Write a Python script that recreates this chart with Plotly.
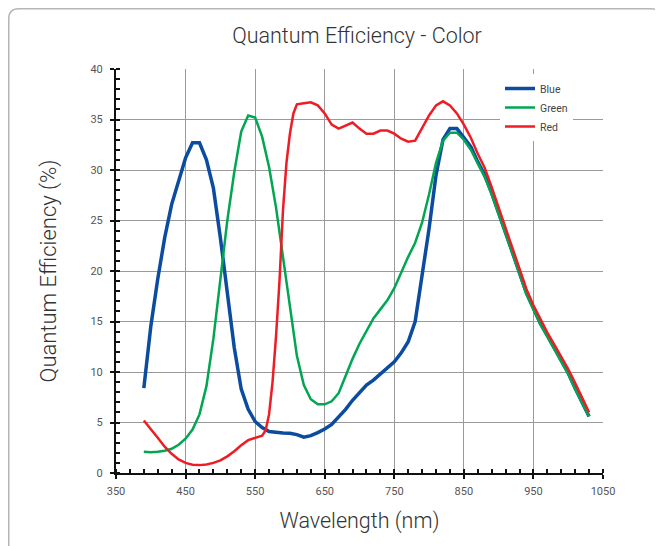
import plotly.graph_objects as go

# ---------------- data ----------------
blue_nm = [390, 400, 410, 420, 430, 440, 450, 460, 470, 480, 490, 500, 510, 520, 530, 540,
           550, 560, 570, 580, 590, 600, 610, 620, 630, 640, 650, 660, 670, 680, 690, 700,
           710, 720, 730, 740, 750, 760, 770, 780, 790, 800, 810, 820, 830, 840, 850, 860,
           870, 880, 890, 900, 910, 920, 930, 940, 950, 960, 970, 980, 990, 1000, 1010, 1020, 1030]
blue_qe = [8.4, 14.5, 19.2, 23.3, 26.6, 29.0, 31.2, 32.7, 32.7, 31.0, 28.2, 23.3, 17.8, 12.4, 8.3, 6.3,
           5.1, 4.5, 4.1, 4.0, 3.95, 3.93, 3.8, 3.55, 3.7, 4.0, 4.35, 4.8, 5.5, 6.3, 7.2, 8.0,
           8.7, 9.2, 9.8, 10.4, 11.0, 11.9, 13.0, 15.0, 19.5, 24.2, 29.5, 33.0, 34.1, 34.1, 33.2, 32.3,
           30.8, 29.5, 27.7, 25.8, 23.8, 21.8, 19.8, 17.8, 16.3, 14.8, 13.6, 12.4, 11.1, 9.9, 8.4, 7.0, 5.6]

green_nm = [390, 400, 410, 420, 430, 440, 450, 460, 470, 480, 490, 500, 510, 520, 530, 540,
            550, 560, 570, 580, 590, 600, 610, 620, 630, 640, 650, 660, 670, 680, 690, 700,
            710, 720, 730, 740, 750, 760, 770, 780, 790, 800, 810, 820, 830, 840, 850, 860,
            870, 880, 890, 900, 910, 920, 930, 940, 950, 960, 970, 980, 990, 1000, 1010, 1020, 1030]
green_qe = [2.1, 2.05, 2.1, 2.2, 2.4, 2.8, 3.4, 4.3, 5.8, 8.6, 13.3, 19.0, 25.0, 29.8, 33.8, 35.4,
            35.2, 33.3, 30.3, 26.3, 21.5, 16.2, 11.6, 8.7, 7.3, 6.8, 6.8, 7.1, 7.9, 9.6, 11.3, 12.8,
            14.1, 15.3, 16.2, 17.1, 18.3, 19.9, 21.4, 22.8, 24.8, 27.6, 30.7, 32.9, 33.7, 33.7, 33.0, 32.0,
            30.6, 29.3, 27.6, 25.7, 23.7, 21.7, 19.7, 17.7, 16.2, 14.7, 13.5, 12.3, 11.0, 9.8, 8.3, 6.9, 5.6]

red_nm = [390, 400, 410, 420, 430, 440, 450, 460, 470, 480, 490, 500, 510, 520, 530, 540,
          550, 560, 565, 570, 575, 580, 585, 590, 595, 600, 605, 610, 620, 630, 640, 650,
          660, 670, 680, 690, 700, 710, 720, 730, 740, 750, 760, 770, 780, 790, 800, 810,
          820, 830, 840, 850, 860, 870, 880, 890, 900, 910, 920, 930, 940, 950, 960, 970,
          980, 990, 1000, 1010, 1020, 1030]
red_qe = [5.2, 4.4, 3.5, 2.6, 1.9, 1.35, 1.0, 0.82, 0.78, 0.85, 1.0, 1.25, 1.65, 2.15, 2.75, 3.25,
          3.45, 3.7, 4.2, 5.8, 9.0, 13.5, 19.0, 26.0, 30.7, 33.6, 35.6, 36.5, 36.6, 36.7, 36.4, 35.6,
          34.5, 34.1, 34.4, 34.7, 34.1, 33.6, 33.6, 33.9, 33.9, 33.6, 33.1, 32.8, 32.9, 34.1, 35.4, 36.4,
          36.8, 36.4, 35.6, 34.5, 33.2, 31.6, 30.2, 28.3, 26.3, 24.2, 22.2, 20.2, 18.2, 16.6, 15.2, 13.9,
          12.7, 11.5, 10.3, 8.9, 7.5, 6.0]

x_ticks = [350, 450, 550, 650, 750, 850, 950, 1050]
y_ticks = [0, 5, 10, 15, 20, 25, 30, 35, 40]

# ---------------- figure ----------------
OFF = 8                      # page offset of the figure inside the window
W, H = 663 - OFF, 546 - OFF
# plot area in window pixels
L, R, T, B = 116, 603, 69, 473
FONT = "Roboto"

fig = go.Figure()
fig.add_trace(go.Scatter(x=blue_nm, y=blue_qe, mode="lines", name="Blue",
                         line=dict(color="#0b4ca1", width=3.5)))
fig.add_trace(go.Scatter(x=green_nm, y=green_qe, mode="lines", name="Green",
                         line=dict(color="#00a651", width=2.5)))
fig.add_trace(go.Scatter(x=red_nm, y=red_qe, mode="lines", name="Red",
                         line=dict(color="#ee1c25", width=2.5)))


def px(x):
    return (x - L) / (R - L)


def py(y):
    return (B - y) / (B - T)


# rounded outer frame (window pixels)
x0, x1, y0, y1, r = 8.75, 661, 8.75, 590, 10
rx = r / (R - L)
ry = r / (B - T)
path = (f"M {px(x0)+rx},{py(y0)} L {px(x1)-rx},{py(y0)} Q {px(x1)},{py(y0)} {px(x1)},{py(y0)-ry} "
        f"L {px(x1)},{py(y1)+ry} Q {px(x1)},{py(y1)} {px(x1)-rx},{py(y1)} "
        f"L {px(x0)+rx},{py(y1)} Q {px(x0)},{py(y1)} {px(x0)},{py(y1)+ry} "
        f"L {px(x0)},{py(y0)-ry} Q {px(x0)},{py(y0)} {px(x0)+rx},{py(y0)} Z")
fig.add_shape(type="path", path=path, xref="paper", yref="paper",
              line=dict(color="#b5b5b5", width=1.5), layer="below")

fig.update_layout(
    width=W, height=H,
    margin=dict(l=L - OFF, r=W - (R - OFF), t=T - OFF, b=H - (B - OFF), pad=0),
    paper_bgcolor="white", plot_bgcolor="white",
    font=dict(family=FONT, color="#555555"),
    title=dict(text="Quantum Efficiency - Color", x=(357 - OFF) / W, xanchor="center",
               y=1 - (35 - OFF) / H, yanchor="middle",
               font=dict(family=FONT, size=21.5, color="#333333", weight=300)),
    legend=dict(x=px(500), y=py(74), xanchor="left", yanchor="top",
                bgcolor="white", font=dict(family=FONT, size=10.5, color="#444444"),
                tracegroupgap=0, itemwidth=30, borderwidth=0),
    showlegend=True,
)

fig.update_xaxes(
    range=[350, 1050], tickvals=x_ticks, ticktext=[str(v) for v in x_ticks],
    showgrid=True, gridcolor="#9a9a9a", gridwidth=1,
    showline=True, linecolor="#111111", linewidth=2,
    ticks="outside", ticklen=4, tickwidth=2, tickcolor="#111111",
    ticklabelstandoff=3,
    minor=dict(dtick=20, tick0=350, ticks="inside", ticklen=4, tickwidth=1.5,
               tickcolor="#111111", showgrid=False),
    tickfont=dict(family=FONT, size=11, color="#555555"),
    title=dict(text="Wavelength (nm)", standoff=16,
               font=dict(family=FONT, size=21.5, color="#333333", weight=300)),
    zeroline=False, fixedrange=True,
)
fig.update_yaxes(
    range=[0, 40], tickvals=y_ticks, ticktext=[str(v) for v in y_ticks],
    showgrid=True, gridcolor="#9a9a9a", gridwidth=1,
    showline=True, linecolor="#111111", linewidth=2,
    ticks="outside", ticklen=4, tickwidth=2, tickcolor="#111111",
    ticklabelstandoff=5,
    minor=dict(dtick=1, tick0=0, ticks="inside", ticklen=4, tickwidth=1.5,
               tickcolor="#111111", showgrid=False),
    tickfont=dict(family=FONT, size=11, color="#555555"),
    title=dict(text="Quantum Efficiency (%)", standoff=28,
               font=dict(family=FONT, size=22, color="#333333", weight=300)),
    zeroline=False, fixedrange=True,
)

fig.write_html("out.html")
